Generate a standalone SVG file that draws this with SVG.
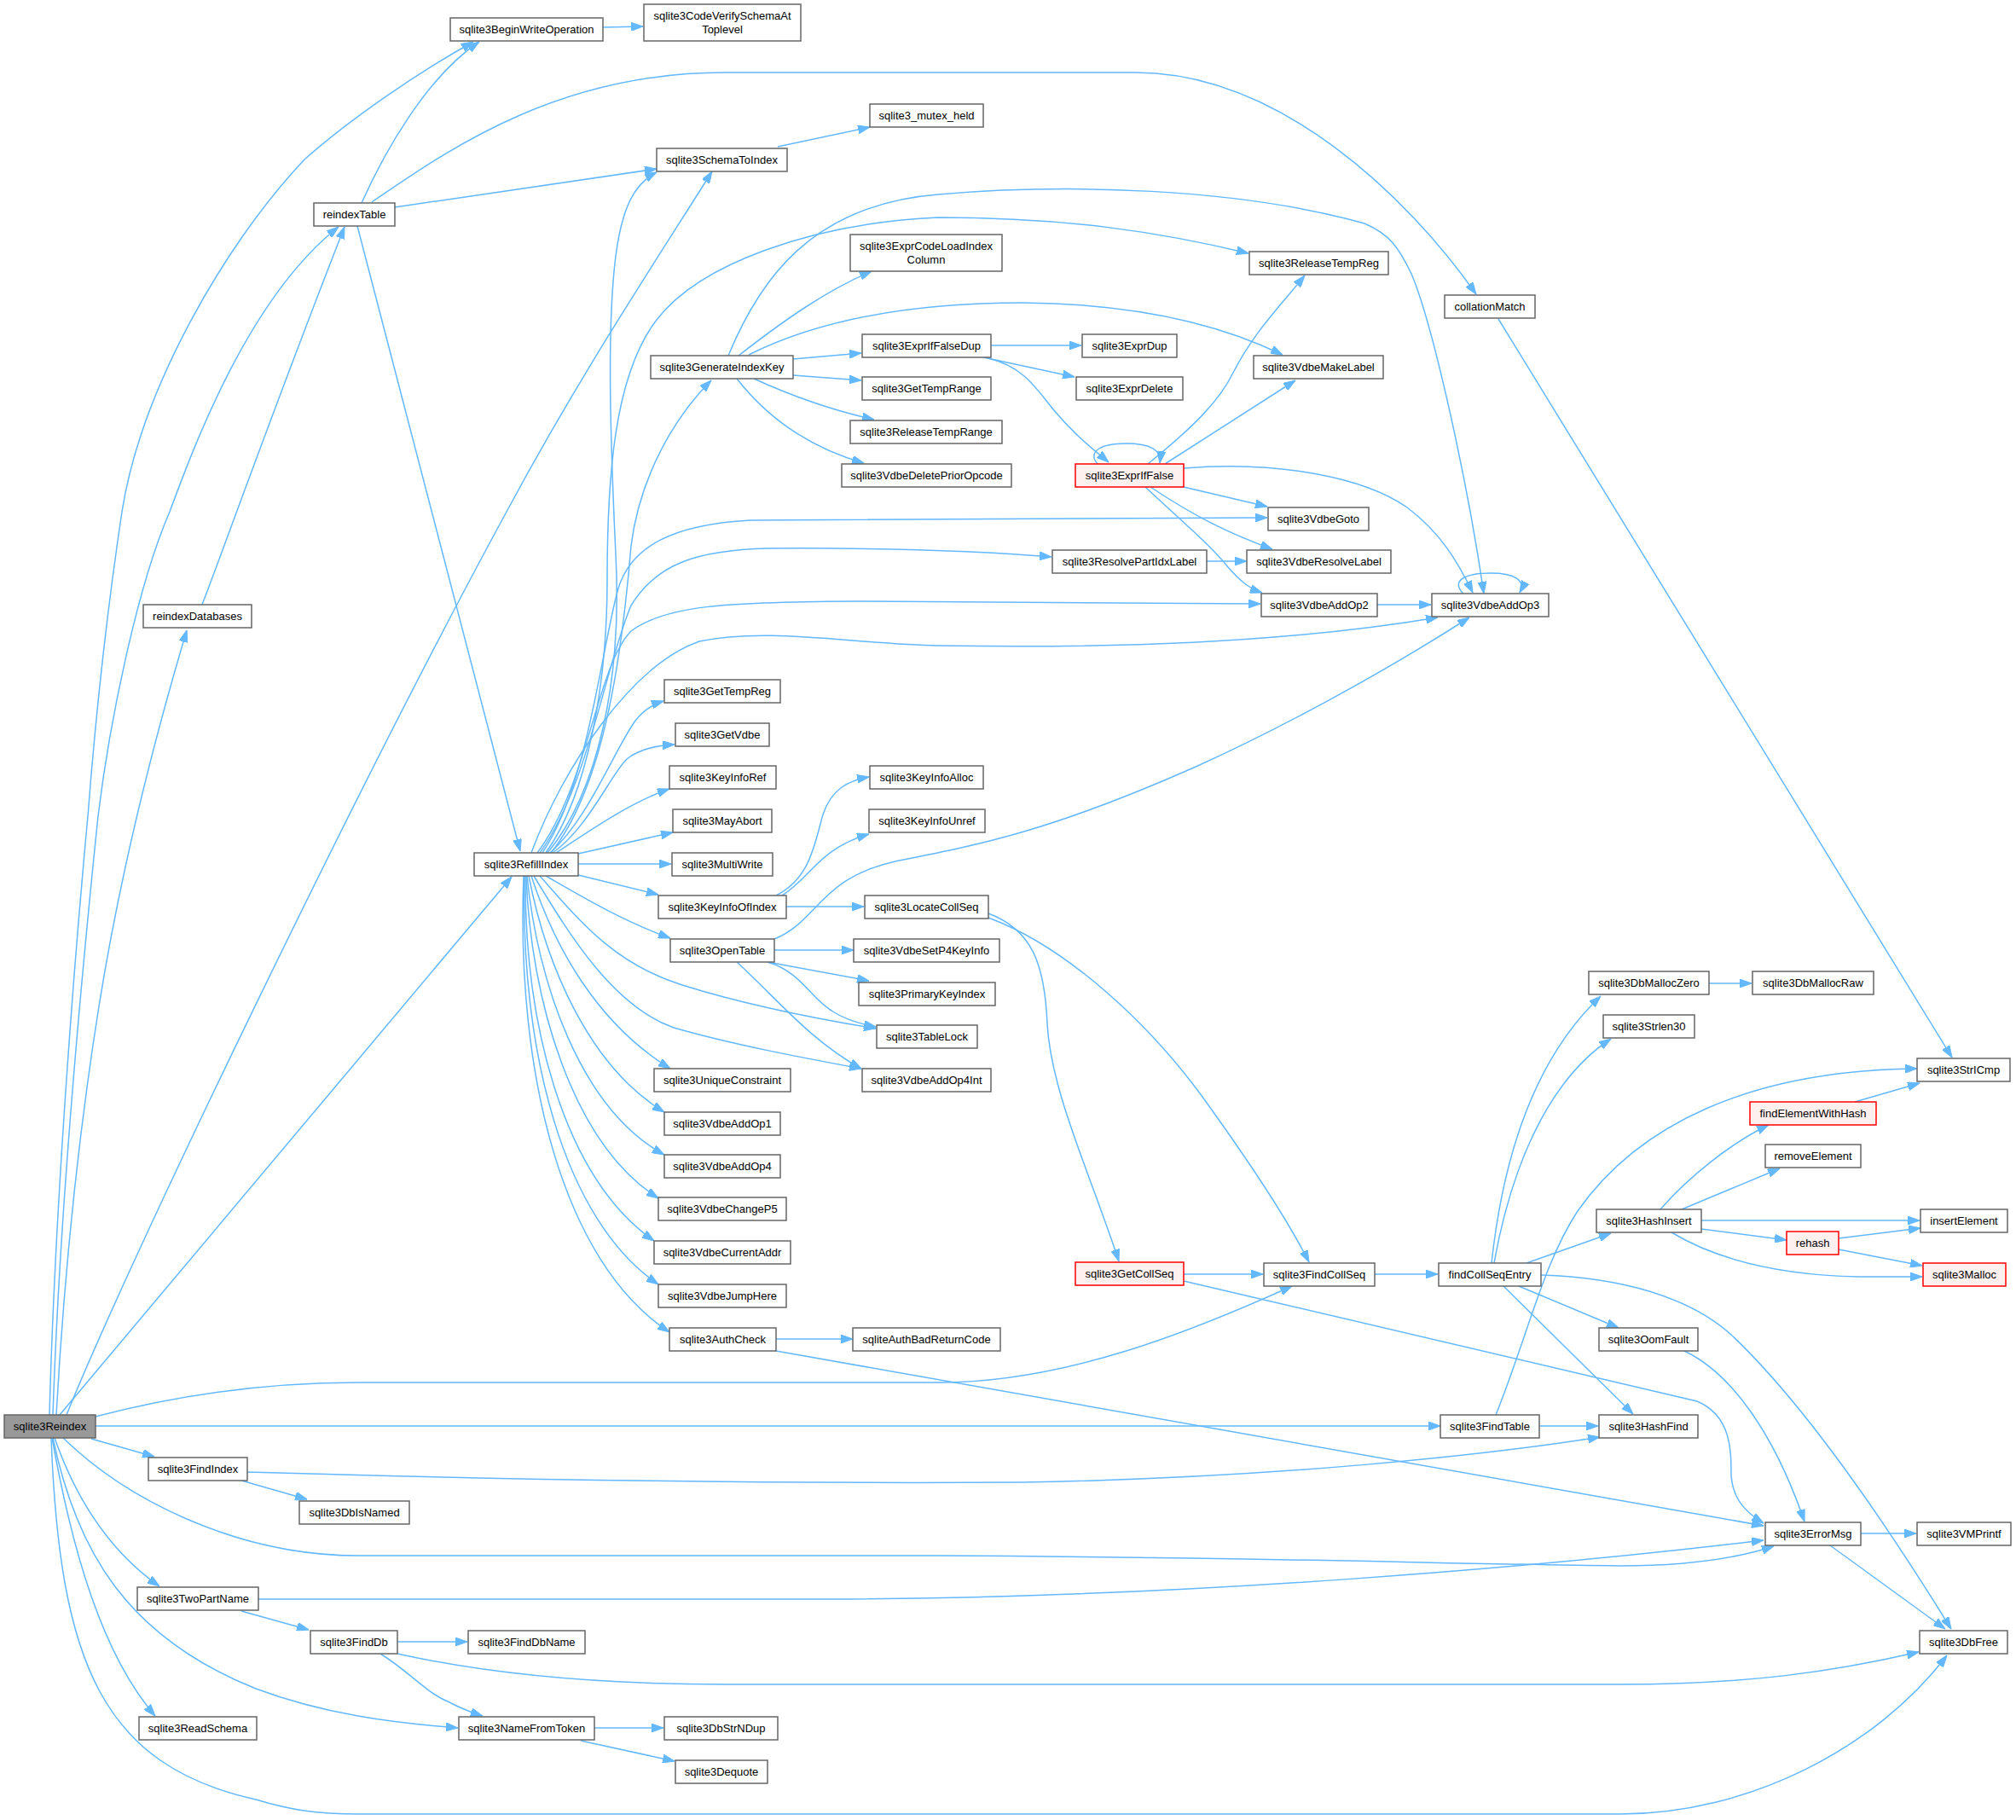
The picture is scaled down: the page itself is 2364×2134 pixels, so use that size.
<svg xmlns="http://www.w3.org/2000/svg" width="2364" height="2134" viewBox="0 0 2364 2134">
<style>
.e{fill:none;stroke:#63b8ff;stroke-width:1.5;marker-end:url(#ah)}
.n rect{fill:#ffffff;stroke:#666666;stroke-width:1.5}
.root rect{fill:#999999;stroke:#666666}
.red rect{fill:#fff0f0;stroke:#ff0000}
text{font-family:"Liberation Sans",Arial,sans-serif;font-size:13px;fill:#000000;text-anchor:middle}
</style>
<defs>
<marker id="ah" markerUnits="userSpaceOnUse" markerWidth="14" markerHeight="10" refX="14" refY="5" orient="auto">
<path d="M0,0 L14,5 L0,10 z" fill="#63b8ff" stroke="#63b8ff" stroke-width="1"/>
</marker>
</defs>
<rect x="0" y="0" width="2364" height="2134" fill="#ffffff"/>
<g id="connectors">
<path class="e" d="M58,1659 C64,1430 85,1150 103,957 C112,840 125,720 143,600 C165,460 260,290 357,187 C410,140 490,85 555,49"/>
<path class="e" d="M62,1659 C70,1420 95,1150 115,957 C128,850 160,690 199,600 C225,530 290,350 397,266"/>
<path class="e" d="M237,709 C260,650 320,480 404,266"/>
<path class="e" d="M66,1659 C76,1480 92,1330 116,1180 C140,1030 180,870 219,739"/>
<path class="e" d="M78,1659 C150,1480 420,920 594,600 C680,440 760,320 835,201"/>
<path class="e" d="M70,1659 L600,1028"/>
<path class="e" d="M112,1661 C200,1638 300,1621 420,1621 L1100,1621 C1250,1621 1400,1560 1515,1508"/>
<path class="e" d="M112,1672 L1689,1672"/>
<path class="e" d="M107,1687 L181,1708"/>
<path class="e" d="M74,1686 C150,1760 280,1824 420,1824 L1100,1824 C1500,1826 1700,1834 1900,1836 C1980,1836 2040,1826 2080,1813"/>
<path class="e" d="M64,1686 C90,1760 130,1820 187,1860"/>
<path class="e" d="M62,1686 C90,1820 150,1920 300,1980 C380,2010 460,2020 537,2026"/>
<path class="e" d="M61,1686 C85,1820 120,1940 182,2012"/>
<path class="e" d="M60,1686 C70,1950 120,2070 300,2110 C340,2122 370,2127 420,2127 L1900,2127 C2050,2127 2200,2050 2283,1941"/>
<path class="e" d="M424,238 C450,180 500,90 562,49"/>
<path class="e" d="M463,243 L770,198"/>
<path class="e" d="M436,237 C520,180 650,85 850,85 L1331,85 C1500,85 1650,230 1731,345"/>
<path class="e" d="M419,265 L610,998"/>
<path class="e" d="M707,32 L754,31"/>
<path class="e" d="M912,172 L1020,149"/>
<path class="e" d="M1757,374 L2289,1240"/>
<path class="e" d="M645,1000 C690,960 720,880 745,845 C755,832 765,826 778,822"/>
<path class="e" d="M648,1000 C690,970 715,910 735,890 C750,878 770,874 791,873"/>
<path class="e" d="M652,1000 C690,975 740,940 785,925"/>
<path class="e" d="M678,1001 L789,976"/>
<path class="e" d="M678,1013 L787,1013"/>
<path class="e" d="M678,1026 L772,1049"/>
<path class="e" d="M640,1027 C680,1050 730,1080 786,1100"/>
<path class="e" d="M633,1027 C680,1080 720,1130 800,1155 C880,1180 960,1195 1027,1206"/>
<path class="e" d="M626,1027 C670,1100 720,1180 790,1205 C860,1225 940,1240 1010,1253"/>
<path class="e" d="M623,1027 C650,1110 700,1200 786,1253"/>
<path class="e" d="M620,1027 C640,1130 690,1250 779,1304"/>
<path class="e" d="M618,1027 C630,1150 680,1300 779,1354"/>
<path class="e" d="M617,1027 C622,1170 670,1340 772,1405"/>
<path class="e" d="M616,1027 C615,1200 660,1380 767,1455"/>
<path class="e" d="M615,1027 C610,1230 660,1430 772,1506"/>
<path class="e" d="M614,1027 C605,1260 660,1480 785,1562"/>
<path class="e" d="M642,1000 C700,930 730,800 722,650 C715,500 712,380 722,300 C730,240 745,215 770,202"/>
<path class="e" d="M640,1000 C690,930 712,800 712,680 C712,560 720,440 770,375 C820,310 950,262 1100,255 C1250,255 1360,272 1464,297"/>
<path class="e" d="M646,1000 C710,920 730,760 740,640 C750,560 790,490 834,446"/>
<path class="e" d="M636,1000 C690,920 705,760 725,690 C740,640 790,615 880,610 L1486,607"/>
<path class="e" d="M633,1000 C690,920 710,780 740,710 C770,660 820,645 900,643 C1050,642 1150,646 1233,653"/>
<path class="e" d="M630,1000 C690,920 700,780 740,740 C780,710 850,706 1000,705 L1478,708"/>
<path class="e" d="M623,1000 C660,900 740,780 820,752 C900,735 1000,755 1100,757 C1300,760 1500,755 1686,724"/>
<path class="e" d="M866,417 C920,375 970,340 1022,318"/>
<path class="e" d="M854,417 C890,330 950,240 1100,228 C1250,215 1450,220 1600,262 C1630,275 1640,290 1655,321 C1680,380 1720,560 1740,696"/>
<path class="e" d="M878,416 C950,380 1050,355 1200,355 C1320,356 1420,375 1504,416"/>
<path class="e" d="M930,421 L1010,414"/>
<path class="e" d="M930,440 L1010,446"/>
<path class="e" d="M884,444 C930,465 980,482 1025,492"/>
<path class="e" d="M864,444 C900,490 950,525 1013,543"/>
<path class="e" d="M1162,405 L1268,405"/>
<path class="e" d="M1153,419 L1260,442"/>
<path class="e" d="M1159,420 C1200,430 1215,455 1235,480 C1260,510 1280,525 1300,542"/>
<path class="e" d="M1287,544 C1275,530 1290,520 1320,520 C1350,520 1362,528 1360,543"/>
<path class="e" d="M1346,544 C1400,500 1430,470 1446,437 C1470,390 1500,360 1530,323"/>
<path class="e" d="M1366,544 L1519,446"/>
<path class="e" d="M1388,571 L1486,594"/>
<path class="e" d="M1349,571 C1400,605 1440,625 1492,644"/>
<path class="e" d="M1343,571 C1390,615 1420,640 1440,665 C1455,682 1465,690 1480,695"/>
<path class="e" d="M1388,549 C1500,540 1600,560 1650,595 C1690,625 1710,660 1727,695"/>
<path class="e" d="M1415,658 L1462,658"/>
<path class="e" d="M1615,709 L1678,709"/>
<path class="e" d="M1716,696 C1700,680 1720,672 1748,672 C1775,672 1790,680 1782,695"/>
<path class="e" d="M910,1050 C950,1030 955,990 965,955 C975,925 995,915 1019,911"/>
<path class="e" d="M917,1050 C950,1030 960,995 1019,978"/>
<path class="e" d="M922,1063 L1013,1063"/>
<path class="e" d="M908,1101 C960,1080 960,1030 1050,1010 C1150,990 1230,975 1400,900 C1500,855 1620,790 1723,724"/>
<path class="e" d="M908,1114 L1001,1114"/>
<path class="e" d="M900,1128 L1019,1150"/>
<path class="e" d="M900,1128 C940,1140 950,1170 975,1185 C990,1195 1005,1200 1027,1204"/>
<path class="e" d="M864,1128 C910,1170 950,1220 1010,1253"/>
<path class="e" d="M1159,1071 C1210,1090 1225,1130 1228,1200 C1232,1280 1280,1380 1312,1479"/>
<path class="e" d="M1159,1076 C1250,1110 1350,1200 1420,1300 C1470,1370 1510,1430 1535,1480"/>
<path class="e" d="M910,1570 L1000,1570"/>
<path class="e" d="M910,1584 L2068,1789"/>
<path class="e" d="M1388,1494 L1481,1494"/>
<path class="e" d="M1388,1502 L1990,1643 C2030,1660 2030,1700 2030,1730 C2032,1760 2050,1775 2068,1786"/>
<path class="e" d="M1612,1494 L1686,1494"/>
<path class="e" d="M1749,1481 C1760,1380 1790,1250 1877,1168"/>
<path class="e" d="M1752,1481 C1770,1380 1810,1270 1889,1218"/>
<path class="e" d="M1790,1481 L1889,1446"/>
<path class="e" d="M1781,1508 L1898,1557"/>
<path class="e" d="M1763,1508 L1915,1658"/>
<path class="e" d="M1807,1495 C1900,1498 1980,1520 2030,1565 C2120,1650 2220,1800 2288,1910"/>
<path class="e" d="M2004,1153 L2054,1153"/>
<path class="e" d="M1947,1418 C1980,1380 2030,1340 2074,1319"/>
<path class="e" d="M1972,1418 L2087,1370"/>
<path class="e" d="M1995,1431 L2251,1431"/>
<path class="e" d="M1995,1441 L2095,1454"/>
<path class="e" d="M1960,1445 C2010,1475 2080,1495 2180,1497 L2254,1497"/>
<path class="e" d="M2175,1292 L2251,1270"/>
<path class="e" d="M2156,1452 L2252,1440"/>
<path class="e" d="M2156,1465 L2254,1484"/>
<path class="e" d="M1975,1584 C2030,1610 2080,1680 2116,1784"/>
<path class="e" d="M1805,1672 L1874,1672"/>
<path class="e" d="M1754,1659 C1790,1570 1810,1480 1850,1420 C1920,1320 2050,1255 2248,1253"/>
<path class="e" d="M290,1726 C600,1735 900,1740 1200,1738 C1500,1733 1750,1705 1876,1685"/>
<path class="e" d="M283,1736 L360,1758"/>
<path class="e" d="M303,1875 L1000,1875 C1400,1872 1800,1838 2068,1806"/>
<path class="e" d="M283,1889 L362,1911"/>
<path class="e" d="M466,1925 L548,1925"/>
<path class="e" d="M446,1939 C480,1960 500,1985 525,1995 C540,2003 550,2007 566,2012"/>
<path class="e" d="M466,1939 C560,1960 680,1975 850,1975 L1900,1975 C2050,1975 2150,1960 2250,1937"/>
<path class="e" d="M697,2026 L778,2026"/>
<path class="e" d="M681,2041 L791,2065"/>
<path class="e" d="M2182,1798 L2247,1798"/>
<path class="e" d="M2146,1812 L2281,1910"/>
</g>
<g id="node-sqlite3Reindex" class="n root"><rect x="5" y="1659" width="107" height="27"/><text x="58.5" y="1677">sqlite3Reindex</text></g>
<g id="node-sqlite3BeginWriteOperation" class="n"><rect x="528" y="21" width="179" height="27"/><text x="617.5" y="39">sqlite3BeginWriteOperation</text></g>
<g id="node-sqlite3CodeVerifySchemaAtToplevel" class="n"><rect x="755" y="5" width="184" height="43"/><text x="847" y="23">sqlite3CodeVerifySchemaAt</text><text x="847" y="39">Toplevel</text></g>
<g id="node-reindexTable" class="n"><rect x="368" y="238" width="95" height="27"/><text x="415.5" y="256">reindexTable</text></g>
<g id="node-reindexDatabases" class="n"><rect x="168" y="709" width="127" height="27"/><text x="231.5" y="727">reindexDatabases</text></g>
<g id="node-sqlite3SchemaToIndex" class="n"><rect x="770" y="174" width="153" height="27"/><text x="846.5" y="192">sqlite3SchemaToIndex</text></g>
<g id="node-sqlite3_mutex_held" class="n"><rect x="1020" y="122" width="133" height="27"/><text x="1086.5" y="140">sqlite3_mutex_held</text></g>
<g id="node-collationMatch" class="n"><rect x="1694" y="346" width="106" height="27"/><text x="1747" y="364">collationMatch</text></g>
<g id="node-sqlite3RefillIndex" class="n"><rect x="556" y="1000" width="122" height="27"/><text x="617" y="1018">sqlite3RefillIndex</text></g>
<g id="node-sqlite3ReleaseTempReg" class="n"><rect x="1465" y="295" width="163" height="27"/><text x="1546.5" y="313">sqlite3ReleaseTempReg</text></g>
<g id="node-sqlite3ExprCodeLoadIndexColumn" class="n"><rect x="997" y="275" width="178" height="43"/><text x="1086" y="293">sqlite3ExprCodeLoadIndex</text><text x="1086" y="309">Column</text></g>
<g id="node-sqlite3GenerateIndexKey" class="n"><rect x="763" y="417" width="167" height="27"/><text x="846.5" y="435">sqlite3GenerateIndexKey</text></g>
<g id="node-sqlite3ExprIfFalseDup" class="n"><rect x="1011" y="392" width="151" height="27"/><text x="1086.5" y="410">sqlite3ExprIfFalseDup</text></g>
<g id="node-sqlite3ExprDup" class="n"><rect x="1269" y="392" width="111" height="27"/><text x="1324.5" y="410">sqlite3ExprDup</text></g>
<g id="node-sqlite3VdbeMakeLabel" class="n"><rect x="1470" y="417" width="152" height="27"/><text x="1546" y="435">sqlite3VdbeMakeLabel</text></g>
<g id="node-sqlite3GetTempRange" class="n"><rect x="1011" y="442" width="151" height="27"/><text x="1086.5" y="460">sqlite3GetTempRange</text></g>
<g id="node-sqlite3ExprDelete" class="n"><rect x="1262" y="442" width="125" height="27"/><text x="1324.5" y="460">sqlite3ExprDelete</text></g>
<g id="node-sqlite3ReleaseTempRange" class="n"><rect x="997" y="493" width="178" height="27"/><text x="1086" y="511">sqlite3ReleaseTempRange</text></g>
<g id="node-sqlite3VdbeDeletePriorOpcode" class="n"><rect x="987" y="544" width="199" height="27"/><text x="1086.5" y="562">sqlite3VdbeDeletePriorOpcode</text></g>
<g id="node-sqlite3ExprIfFalse" class="n red"><rect x="1261" y="544" width="127" height="27"/><text x="1324.5" y="562">sqlite3ExprIfFalse</text></g>
<g id="node-sqlite3VdbeGoto" class="n"><rect x="1487" y="595" width="118" height="27"/><text x="1546" y="613">sqlite3VdbeGoto</text></g>
<g id="node-sqlite3ResolvePartIdxLabel" class="n"><rect x="1234" y="645" width="181" height="27"/><text x="1324.5" y="663">sqlite3ResolvePartIdxLabel</text></g>
<g id="node-sqlite3VdbeResolveLabel" class="n"><rect x="1462" y="645" width="169" height="27"/><text x="1546.5" y="663">sqlite3VdbeResolveLabel</text></g>
<g id="node-sqlite3VdbeAddOp2" class="n"><rect x="1479" y="696" width="136" height="27"/><text x="1547" y="714">sqlite3VdbeAddOp2</text></g>
<g id="node-sqlite3VdbeAddOp3" class="n"><rect x="1679" y="696" width="137" height="27"/><text x="1747.5" y="714">sqlite3VdbeAddOp3</text></g>
<g id="node-sqlite3GetTempReg" class="n"><rect x="779" y="797" width="136" height="27"/><text x="847" y="815">sqlite3GetTempReg</text></g>
<g id="node-sqlite3GetVdbe" class="n"><rect x="792" y="848" width="110" height="27"/><text x="847" y="866">sqlite3GetVdbe</text></g>
<g id="node-sqlite3KeyInfoRef" class="n"><rect x="785" y="898" width="125" height="27"/><text x="847.5" y="916">sqlite3KeyInfoRef</text></g>
<g id="node-sqlite3MayAbort" class="n"><rect x="789" y="949" width="116" height="27"/><text x="847" y="967">sqlite3MayAbort</text></g>
<g id="node-sqlite3MultiWrite" class="n"><rect x="788" y="1000" width="118" height="27"/><text x="847" y="1018">sqlite3MultiWrite</text></g>
<g id="node-sqlite3KeyInfoOfIndex" class="n"><rect x="772" y="1050" width="150" height="27"/><text x="847" y="1068">sqlite3KeyInfoOfIndex</text></g>
<g id="node-sqlite3OpenTable" class="n"><rect x="786" y="1101" width="122" height="27"/><text x="847" y="1119">sqlite3OpenTable</text></g>
<g id="node-sqlite3UniqueConstraint" class="n"><rect x="767" y="1253" width="160" height="27"/><text x="847" y="1271">sqlite3UniqueConstraint</text></g>
<g id="node-sqlite3VdbeAddOp1" class="n"><rect x="779" y="1304" width="136" height="27"/><text x="847" y="1322">sqlite3VdbeAddOp1</text></g>
<g id="node-sqlite3VdbeAddOp4" class="n"><rect x="779" y="1354" width="136" height="27"/><text x="847" y="1372">sqlite3VdbeAddOp4</text></g>
<g id="node-sqlite3VdbeChangeP5" class="n"><rect x="772" y="1404" width="150" height="27"/><text x="847" y="1422">sqlite3VdbeChangeP5</text></g>
<g id="node-sqlite3VdbeCurrentAddr" class="n"><rect x="767" y="1455" width="160" height="27"/><text x="847" y="1473">sqlite3VdbeCurrentAddr</text></g>
<g id="node-sqlite3VdbeJumpHere" class="n"><rect x="772" y="1506" width="150" height="27"/><text x="847" y="1524">sqlite3VdbeJumpHere</text></g>
<g id="node-sqlite3AuthCheck" class="n"><rect x="785" y="1557" width="125" height="27"/><text x="847.5" y="1575">sqlite3AuthCheck</text></g>
<g id="node-sqliteAuthBadReturnCode" class="n"><rect x="1000" y="1557" width="173" height="27"/><text x="1086.5" y="1575">sqliteAuthBadReturnCode</text></g>
<g id="node-sqlite3KeyInfoAlloc" class="n"><rect x="1020" y="898" width="133" height="27"/><text x="1086.5" y="916">sqlite3KeyInfoAlloc</text></g>
<g id="node-sqlite3KeyInfoUnref" class="n"><rect x="1019" y="949" width="136" height="27"/><text x="1087" y="967">sqlite3KeyInfoUnref</text></g>
<g id="node-sqlite3LocateCollSeq" class="n"><rect x="1014" y="1050" width="145" height="27"/><text x="1086.5" y="1068">sqlite3LocateCollSeq</text></g>
<g id="node-sqlite3VdbeSetP4KeyInfo" class="n"><rect x="1001" y="1101" width="171" height="27"/><text x="1086.5" y="1119">sqlite3VdbeSetP4KeyInfo</text></g>
<g id="node-sqlite3PrimaryKeyIndex" class="n"><rect x="1007" y="1152" width="160" height="27"/><text x="1087" y="1170">sqlite3PrimaryKeyIndex</text></g>
<g id="node-sqlite3TableLock" class="n"><rect x="1028" y="1202" width="118" height="27"/><text x="1087" y="1220">sqlite3TableLock</text></g>
<g id="node-sqlite3VdbeAddOp4Int" class="n"><rect x="1011" y="1253" width="151" height="27"/><text x="1086.5" y="1271">sqlite3VdbeAddOp4Int</text></g>
<g id="node-sqlite3GetCollSeq" class="n red"><rect x="1261" y="1480" width="127" height="27"/><text x="1324.5" y="1498">sqlite3GetCollSeq</text></g>
<g id="node-sqlite3FindCollSeq" class="n"><rect x="1482" y="1481" width="130" height="27"/><text x="1547" y="1499">sqlite3FindCollSeq</text></g>
<g id="node-findCollSeqEntry" class="n"><rect x="1687" y="1481" width="120" height="27"/><text x="1747" y="1499">findCollSeqEntry</text></g>
<g id="node-sqlite3DbMallocZero" class="n"><rect x="1863" y="1139" width="141" height="27"/><text x="1933.5" y="1157">sqlite3DbMallocZero</text></g>
<g id="node-sqlite3DbMallocRaw" class="n"><rect x="2055" y="1139" width="142" height="27"/><text x="2126" y="1157">sqlite3DbMallocRaw</text></g>
<g id="node-sqlite3Strlen30" class="n"><rect x="1880" y="1190" width="107" height="27"/><text x="1933.5" y="1208">sqlite3Strlen30</text></g>
<g id="node-sqlite3StrICmp" class="n"><rect x="2248" y="1241" width="109" height="27"/><text x="2302.5" y="1259">sqlite3StrICmp</text></g>
<g id="node-findElementWithHash" class="n red"><rect x="2052" y="1292" width="148" height="27"/><text x="2126" y="1310">findElementWithHash</text></g>
<g id="node-removeElement" class="n"><rect x="2070" y="1342" width="112" height="27"/><text x="2126" y="1360">removeElement</text></g>
<g id="node-sqlite3HashInsert" class="n"><rect x="1872" y="1418" width="123" height="27"/><text x="1933.5" y="1436">sqlite3HashInsert</text></g>
<g id="node-insertElement" class="n"><rect x="2252" y="1418" width="102" height="27"/><text x="2303" y="1436">insertElement</text></g>
<g id="node-rehash" class="n red"><rect x="2095" y="1444" width="61" height="27"/><text x="2125.5" y="1462">rehash</text></g>
<g id="node-sqlite3Malloc" class="n red"><rect x="2255" y="1481" width="97" height="27"/><text x="2303.5" y="1499">sqlite3Malloc</text></g>
<g id="node-sqlite3OomFault" class="n"><rect x="1875" y="1557" width="116" height="27"/><text x="1933" y="1575">sqlite3OomFault</text></g>
<g id="node-sqlite3FindTable" class="n"><rect x="1689" y="1659" width="116" height="27"/><text x="1747" y="1677">sqlite3FindTable</text></g>
<g id="node-sqlite3HashFind" class="n"><rect x="1875" y="1659" width="116" height="27"/><text x="1933" y="1677">sqlite3HashFind</text></g>
<g id="node-sqlite3ErrorMsg" class="n"><rect x="2070" y="1785" width="112" height="27"/><text x="2126" y="1803">sqlite3ErrorMsg</text></g>
<g id="node-sqlite3VMPrintf" class="n"><rect x="2248" y="1785" width="110" height="27"/><text x="2303" y="1803">sqlite3VMPrintf</text></g>
<g id="node-sqlite3DbFree" class="n"><rect x="2251" y="1912" width="103" height="27"/><text x="2302.5" y="1930">sqlite3DbFree</text></g>
<g id="node-sqlite3FindIndex" class="n"><rect x="174" y="1709" width="116" height="27"/><text x="232" y="1727">sqlite3FindIndex</text></g>
<g id="node-sqlite3DbIsNamed" class="n"><rect x="351" y="1760" width="129" height="27"/><text x="415.5" y="1778">sqlite3DbIsNamed</text></g>
<g id="node-sqlite3TwoPartName" class="n"><rect x="161" y="1861" width="142" height="27"/><text x="232" y="1879">sqlite3TwoPartName</text></g>
<g id="node-sqlite3FindDb" class="n"><rect x="364" y="1912" width="102" height="27"/><text x="415" y="1930">sqlite3FindDb</text></g>
<g id="node-sqlite3FindDbName" class="n"><rect x="549" y="1912" width="137" height="27"/><text x="617.5" y="1930">sqlite3FindDbName</text></g>
<g id="node-sqlite3ReadSchema" class="n"><rect x="163" y="2013" width="138" height="27"/><text x="232" y="2031">sqlite3ReadSchema</text></g>
<g id="node-sqlite3NameFromToken" class="n"><rect x="538" y="2013" width="159" height="27"/><text x="617.5" y="2031">sqlite3NameFromToken</text></g>
<g id="node-sqlite3DbStrNDup" class="n"><rect x="779" y="2013" width="133" height="27"/><text x="845.5" y="2031">sqlite3DbStrNDup</text></g>
<g id="node-sqlite3Dequote" class="n"><rect x="792" y="2064" width="108" height="27"/><text x="846" y="2082">sqlite3Dequote</text></g>
</svg>
